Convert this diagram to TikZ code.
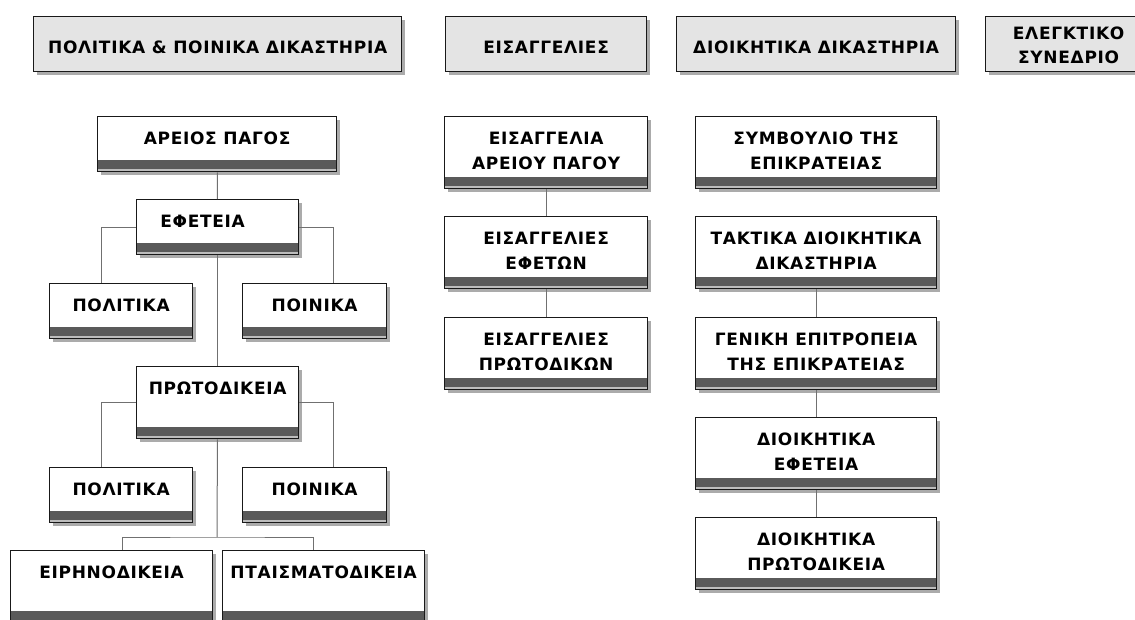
\documentclass[tikz,border=0pt]{standalone}
\usepackage{fontspec}
\setmainfont{DejaVu Sans}[LetterSpace=4]
\usepackage{tikz}
\usetikzlibrary{calc,shadows}

\definecolor{headgray}{HTML}{E4E4E4}
\definecolor{bargray}{HTML}{5A5A5A}
\definecolor{stripegray}{HTML}{BDBDBD}
\definecolor{linkgray}{HTML}{707070}

\tikzset{
  base/.style={draw=black!90, line width=1.3pt, inner sep=0pt, anchor=north west,
    align=center, font=\fontsize{17}{25}\selectfont\bfseries,
    drop shadow={shadow xshift=3pt, shadow yshift=-3pt, fill=black!55, opacity=0.6}},
  headbox/.style={base, fill=headgray, minimum height=55pt, text height=37pt, text depth=18pt},
  courtbox/.style={base, fill=white, text height=28pt,
    path picture={
      \fill[stripegray] (path picture bounding box.south west) rectangle ([yshift=3pt]path picture bounding box.south east);
      \fill[bargray] ([yshift=3pt]path picture bounding box.south west) rectangle ([yshift=12pt]path picture bounding box.south east);
    }},
  low/.style={minimum height=55pt, text depth=27pt},
  tall/.style={minimum height=72pt, text depth=44pt},
  twoline/.style={minimum height=72pt, text height=53pt, text depth=19pt},
  link/.style={draw=linkgray, line width=1pt}
}

\begin{document}
\begin{tikzpicture}[x=1pt, y=-1pt]
  \clip (0,0) rectangle (1135,619);
  \fill[white] (0,0) rectangle (1135,619);

  % headings
  \node[headbox, minimum width=368pt] (hpol) at (33,16) {ΠΟΛΙΤΙΚΑ \& ΠΟΙΝΙΚΑ ΔΙΚΑΣΤΗΡΙΑ};
  \node[headbox, minimum width=201pt] (heis) at (445,16) {ΕΙΣΑΓΓΕΛΙΕΣ};
  \node[headbox, minimum width=279pt] (hdio) at (676,16) {ΔΙΟΙΚΗΤΙΚΑ ΔΙΚΑΣΤΗΡΙΑ};
  \node[headbox, minimum width=166pt, text height=47pt, text depth=8pt, font=\fontsize{17}{24}\selectfont\bfseries] (hele) at (985,16) {ΕΛΕΓΚΤΙΚΟ\\ΣΥΝΕΔΡΙΟ};

  % civil and criminal courts
  \node[courtbox, low, minimum width=239pt] (arei) at (97,116) {ΑΡΕΙΟΣ ΠΑΓΟΣ};
  \node[courtbox, low, minimum width=162pt] (efet) at (136,199) {ΕΦΕΤΕΙΑ\hspace{30pt}};
  \node[courtbox, low, minimum width=143pt] (pol1) at (49,283) {ΠΟΛΙΤΙΚΑ};
  \node[courtbox, low, minimum width=144pt] (poin1) at (242,283) {ΠΟΙΝΙΚΑ};
  \node[courtbox, tall, minimum width=162pt] (prot) at (136,366) {ΠΡΩΤΟΔΙΚΕΙΑ};
  \node[courtbox, low, minimum width=143pt] (pol2) at (49,467) {ΠΟΛΙΤΙΚΑ};
  \node[courtbox, low, minimum width=144pt] (poin2) at (242,467) {ΠΟΙΝΙΚΑ};
  \node[courtbox, tall, minimum width=202pt] (irin) at (10,550) {ΕΙΡΗΝΟΔΙΚΕΙΑ};
  \node[courtbox, tall, minimum width=202pt] (ptais) at (222,550) {ΠΤΑΙΣΜΑΤΟΔΙΚΕΙΑ};
  \coordinate (split) at (217,537);

  \draw[link] (arei) -- (efet);
  \draw[link] (efet.west) -| ([xshift=-19.5pt]pol1.north);
  \draw[link] (efet.east) -| ([xshift=19pt]poin1.north);
  \draw[link] (efet) -- (prot);
  \draw[link] (prot.west) -| ([xshift=-19.5pt]pol2.north);
  \draw[link] (prot.east) -| ([xshift=19pt]poin2.north);
  \draw[link] (prot) -- (split);
  \draw[link] ([xshift=10.5pt]irin.north) |- (split) -| ([xshift=-10pt]ptais.north);

  % prosecutors
  \node[courtbox, twoline, minimum width=203pt] (eis1) at (444,116) {ΕΙΣΑΓΓΕΛΙΑ\\ΑΡΕΙΟΥ ΠΑΓΟΥ};
  \node[courtbox, twoline, minimum width=203pt] (eis2) at (444,216) {ΕΙΣΑΓΓΕΛΙΕΣ\\ΕΦΕΤΩΝ};
  \node[courtbox, twoline, minimum width=203pt] (eis3) at (444,317) {ΕΙΣΑΓΓΕΛΙΕΣ\\ΠΡΩΤΟΔΙΚΩΝ};
  \draw[link] (eis1) -- (eis2);
  \draw[link] (eis2) -- (eis3);

  % administrative courts
  \node[courtbox, twoline, minimum width=241pt] (symv) at (695,116) {ΣΥΜΒΟΥΛΙΟ ΤΗΣ\\ΕΠΙΚΡΑΤΕΙΑΣ};
  \node[courtbox, twoline, minimum width=241pt] (takt) at (695,216) {ΤΑΚΤΙΚΑ ΔΙΟΙΚΗΤΙΚΑ\\ΔΙΚΑΣΤΗΡΙΑ};
  \node[courtbox, twoline, minimum width=241pt] (gen) at (695,317) {ΓΕΝΙΚΗ ΕΠΙΤΡΟΠΕΙΑ\\ΤΗΣ ΕΠΙΚΡΑΤΕΙΑΣ};
  \node[courtbox, twoline, minimum width=241pt] (dioef) at (695,417) {ΔΙΟΙΚΗΤΙΚΑ\\ΕΦΕΤΕΙΑ};
  \node[courtbox, twoline, minimum width=241pt] (dioprot) at (695,517) {ΔΙΟΙΚΗΤΙΚΑ\\ΠΡΩΤΟΔΙΚΕΙΑ};
  \draw[link] (takt) -- (gen);
  \draw[link] (gen) -- (dioef);
  \draw[link] (dioef) -- (dioprot);
\end{tikzpicture}
\end{document}
